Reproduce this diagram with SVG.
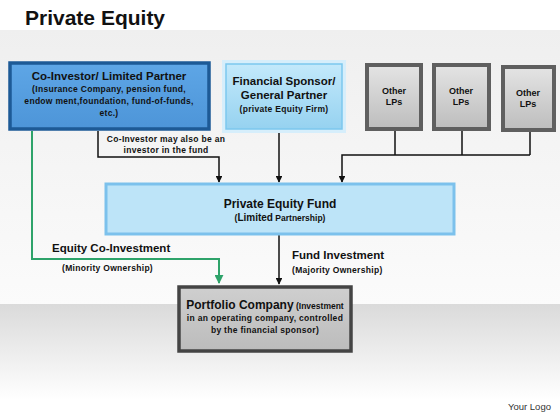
<svg xmlns="http://www.w3.org/2000/svg" width="560" height="420" viewBox="0 0 560 420">
<defs>
<linearGradient id="bgTop" x1="0" y1="0" x2="0" y2="1"><stop offset="0" stop-color="#efefef"/><stop offset="1" stop-color="#fbfbfb"/></linearGradient>
<linearGradient id="bgBot" x1="0" y1="0" x2="0" y2="1"><stop offset="0" stop-color="#dadada"/><stop offset="1" stop-color="#ffffff"/></linearGradient>
<linearGradient id="gBlue" x1="0" y1="0" x2="0" y2="1"><stop offset="0" stop-color="#5ea6e6"/><stop offset="1" stop-color="#4d95d8"/></linearGradient>
<linearGradient id="gLight" x1="0" y1="0" x2="0" y2="1"><stop offset="0" stop-color="#c3e9fb"/><stop offset="1" stop-color="#96d2f0"/></linearGradient>
<linearGradient id="gGray" x1="0" y1="0" x2="0" y2="1"><stop offset="0" stop-color="#e4e4e4"/><stop offset="1" stop-color="#bdbdbd"/></linearGradient>
<linearGradient id="gPort" x1="0" y1="0" x2="0" y2="1"><stop offset="0" stop-color="#cfcfcf"/><stop offset="1" stop-color="#bcbcbc"/></linearGradient>
<marker id="ah" viewBox="0 0 10 10" refX="9" refY="5" markerWidth="4.5" markerHeight="4.5" orient="auto"><path d="M0,0 L10,5 L0,10 z" fill="#111"/></marker>
<marker id="ahg" viewBox="0 0 10 10" refX="9" refY="5" markerWidth="4.5" markerHeight="4.5" orient="auto"><path d="M0,0 L10,5 L0,10 z" fill="#2ea36a"/></marker>
</defs>
<style>
text{font-family:"Liberation Sans",Arial,sans-serif;fill:#111;font-weight:bold}
.t{font-size:11.5px}
.s{font-size:8.5px;letter-spacing:0.3px}
.lp{font-size:9px}
.c{stroke:#111;stroke-width:1.5;fill:none}
.g{stroke:#2ea36a;stroke-width:2;fill:none}
</style>
<rect x="0" y="0" width="560" height="420" fill="#ffffff"/>
<rect x="0" y="30" width="560" height="275" fill="url(#bgTop)"/>
<rect x="0" y="304" width="560" height="96" fill="url(#bgBot)"/>
<text x="25" y="25" style="font-size:21px">Private Equity</text>

<g id="connectors">
<path class="c" d="M98,131 V157 H219 V182" marker-end="url(#ah)"/>
<path class="c" d="M279,131 V182" marker-end="url(#ah)"/>
<path class="c" d="M395,131 V155 M462,131 V155 M530,131 V155 M530,155 H342 V182" marker-end="url(#ah)"/>
<path class="g" d="M32,131 V259 H219 V283" marker-end="url(#ahg)"/>
<path class="c" d="M279,235 V284" marker-end="url(#ah)"/>
<text class="s" x="166" y="142" text-anchor="middle">Co-Investor may also be an</text>
<text class="s" x="166" y="153" text-anchor="middle">investor in the fund</text>
<text x="52" y="252" style="font-size:11.5px">Equity Co-Investment</text>
<text class="s" x="62" y="271">(Minority Ownership)</text>
<text x="292" y="259" style="font-size:11.5px">Fund Investment</text>
<text class="s" x="292" y="273">(Majority Ownership)</text>
</g>

<g id="coinvestor">
<rect x="10" y="63" width="199" height="66" fill="url(#gBlue)" stroke="#1d5a96" stroke-width="3.5"/>
<text class="t" x="109" y="80" text-anchor="middle">Co-Investor/  Limited Partner</text>
<text class="s" x="109" y="92" text-anchor="middle">(Insurance Company, pension fund,</text>
<text class="s" x="109" y="104" text-anchor="middle">endow ment,foundation,  fund-of-funds,</text>
<text class="s" x="109" y="116" text-anchor="middle">etc.)</text>
</g>

<g id="sponsor">
<rect x="224" y="62" width="120" height="69" fill="none" stroke="#d6eefb" stroke-width="4"/>
<rect x="226" y="64" width="116" height="65" fill="url(#gLight)" stroke="#7cc7ee" stroke-width="1.5"/>
<text class="t" x="284" y="85" text-anchor="middle">Financial Sponsor/</text>
<text class="t" x="284" y="99" text-anchor="middle">General Partner</text>
<text class="s" x="284" y="112" text-anchor="middle">(private Equity Firm)</text>
</g>

<g id="lp1">
<rect x="367" y="65" width="54" height="64" fill="url(#gGray)" stroke="#5f5f5f" stroke-width="4"/>
<text class="lp" x="394" y="94" text-anchor="middle">Other</text>
<text class="lp" x="394" y="105" text-anchor="middle">LPs</text>
</g>
<g id="lp2">
<rect x="434" y="65" width="55" height="64" fill="url(#gGray)" stroke="#5f5f5f" stroke-width="4"/>
<text class="lp" x="461" y="94" text-anchor="middle">Other</text>
<text class="lp" x="461" y="105" text-anchor="middle">LPs</text>
</g>
<g id="lp3">
<rect x="503" y="67" width="51" height="63" fill="url(#gGray)" stroke="#5f5f5f" stroke-width="4"/>
<text class="lp" x="528" y="96" text-anchor="middle">Other</text>
<text class="lp" x="528" y="107" text-anchor="middle">LPs</text>
</g>

<g id="pefund">
<rect x="106" y="184" width="348" height="50" fill="#bde4f8" stroke="#7cc1ec" stroke-width="3"/>
<text x="280" y="208" text-anchor="middle" style="font-size:12px">Private Equity Fund</text>
<text x="280" y="221" text-anchor="middle" style="font-size:8.5px">(<tspan style="font-size:10px">Limited</tspan> Partnership)</text>
</g>

<g id="portfolio">
<rect x="179" y="287" width="172" height="64" fill="url(#gPort)" stroke="#444" stroke-width="3.5"/>
<text x="265" y="309" text-anchor="middle"><tspan style="font-size:12px">Portfolio Company</tspan><tspan style="font-size:8.5px"> (Investment</tspan></text>
<text class="s" x="265" y="321" text-anchor="middle">in an operating company, controlled</text>
<text class="s" x="265" y="333" text-anchor="middle">by the financial sponsor)</text>
</g>

<text x="508" y="410" style="font-size:9.5px;font-weight:normal;fill:#333">Your Logo</text>
</svg>
